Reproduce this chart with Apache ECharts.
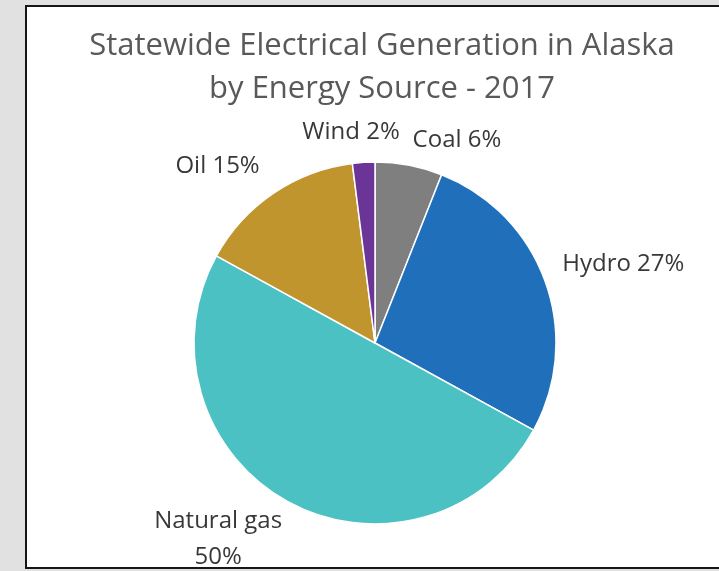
<!DOCTYPE html>
<html>
<head>
<meta charset="utf-8">
<script src="https://cdn.jsdelivr.net/npm/echarts@6/dist/echarts.min.js"></script>
<style>
  html, body { margin: 0; padding: 0; background: #e1e1e1; }
  #frame { position: absolute; left: 25px; top: 5px; width: 720px; height: 560px; background: #ffffff; border: 2px solid #161616; border-right: none; }
  #chart { position: absolute; left: 0; top: 0; width: 719px; height: 571px; }
</style>
</head>
<body>
<div id="frame"></div>
<div id="chart"></div>
<script>
// Data
const titleLines = ['Statewide Electrical Generation in Alaska', 'by Energy Source - 2017'];
const categories = ['Coal', 'Hydro', 'Natural gas', 'Oil', 'Wind'];
const shares = [6, 27, 50, 15, 2];
const sliceColors = ['#7f7f7f', '#1f6fba', '#4bc1c3', '#c1952e', '#6b3597'];

// Label placement styling (label line hidden; lengths only steer text position)
const labelLineLen = [25, 52, 43, 33, 30];
const labelLineLen2 = [-1, -32, -15, -5, -38];

const chart = echarts.init(document.getElementById('chart'), null, { renderer: 'canvas' });

const data = categories.map((name, i) => ({
  name: name,
  value: shares[i],
  itemStyle: { color: sliceColors[i] },
  labelLine: { show: false, length: labelLineLen[i], length2: labelLineLen2[i] }
}));

chart.setOption({
  animation: false,
  backgroundColor: 'transparent',
  title: {
    text: titleLines.join('\n'),
    left: 377,
    top: 20,
    textAlign: 'center',
    textStyle: {
      fontFamily: 'Open Sans',
      fontWeight: 'normal',
      fontSize: 31,
      lineHeight: 43,
      color: '#595959'
    }
  },
  series: [{
    type: 'pie',
    center: [375, 343],
    radius: 181,
    startAngle: 90,
    clockwise: true,
    avoidLabelOverlap: false,
    itemStyle: { borderColor: '#ffffff', borderWidth: 1.5 },
    label: {
      show: true,
      position: 'outside',
      distanceToLabelLine: 0,
      formatter: function (p) {
        if (p.name === 'Natural gas') {
          return '{c|' + p.name + '}\n{c|' + p.value + '%}';
        }
        return p.name + ' ' + p.value + '%';
      },
      fontFamily: 'Open Sans',
      fontSize: 24,
      color: '#383838',
      lineHeight: 36,
      rich: {
        c: { align: 'center', fontFamily: 'Open Sans', fontSize: 24, color: '#383838', lineHeight: 36 }
      }
    },
    labelLine: { show: false },
    emphasis: { disabled: true },
    data: data
  }]
});
</script>
</body>
</html>
